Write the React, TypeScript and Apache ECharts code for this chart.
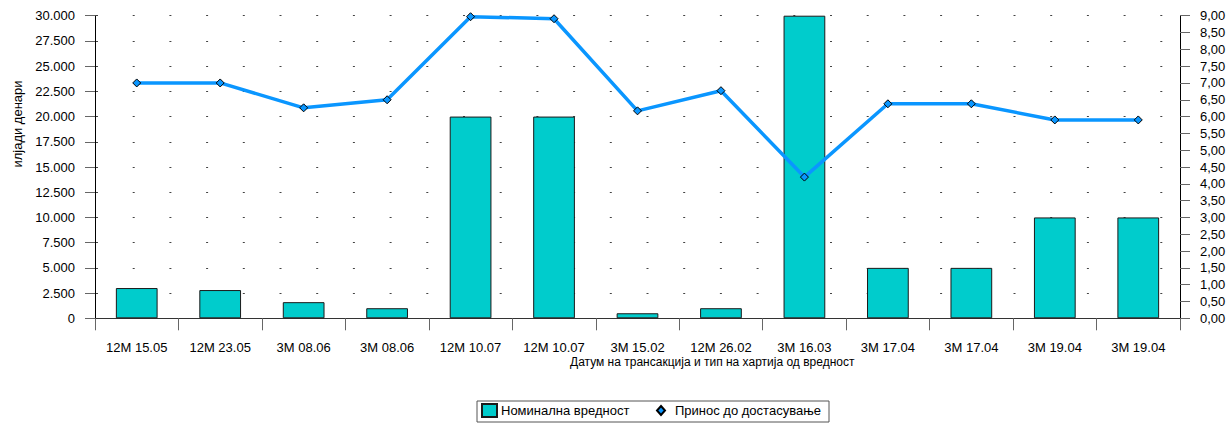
import React, { useEffect, useRef } from "react";
import * as echarts from "echarts";

const categories = [
  "12M 15.05", "12M 23.05", "3M 08.06", "3M 08.06", "12M 10.07", "12M 10.07",
  "3M 15.02", "12M 26.02", "3M 16.03", "3M 17.04", "3M 17.04", "3M 19.04", "3M 19.04",
];
const nominal = [3000, 2800, 1600, 1000, 20000, 20000, 500, 1000, 30000, 5000, 5000, 10000, 10000];
const yieldVals = [7.0, 7.0, 6.26, 6.5, 8.97, 8.91, 6.17, 6.77, 4.2, 6.38, 6.38, 5.9, 5.9];
const barName = "Номинална вредност";
const lineName = "Принос до достасување";
const yName = "илјади денари";
const xName = "Датум на трансакција и тип на хартија од вредност";

const FONT = "'Liberation Sans', Arial, sans-serif";

function fmtThousands(v: number) {
  return String(Math.round(v)).replace(/\B(?=(\d{3})+(?!\d))/g, ".");
}

export default function App() {
  const ref = useRef<HTMLDivElement>(null);
  useEffect(() => {
    if (!ref.current) return;
    const chart = echarts.init(ref.current, null, { renderer: "svg" });
    chart.setOption({
      animation: false,
      textStyle: { fontFamily: FONT },
      grid: { left: 95, right: 49, top: 15.7, bottom: 106.7, containLabel: false },
      legend: [
        {
          data: [{ name: barName, icon: "rect" }],
          left: 481,
          top: 403,
          itemWidth: 15,
          itemHeight: 13,
          itemGap: 0,
          padding: 0,
          textStyle: { fontSize: 13, color: "#000", fontFamily: FONT, padding: [0, 0, 0, -1] },
        },
        {
          data: [{ name: lineName, icon: "diamond" }],
          left: 656,
          top: 404,
          itemWidth: 8,
          itemHeight: 9,
          padding: 0,
          textStyle: { fontSize: 13, color: "#000", fontFamily: FONT, padding: [0, 0, 0, 5] },
        },
      ],
      graphic: [
        {
          type: "rect",
          shape: { x: 477, y: 401, width: 352, height: 21 },
          style: { fill: "none", stroke: "#555", lineWidth: 1 },
          silent: true,
          z: -1,
        },
        {
          type: "text",
          x: 17,
          y: 124,
          rotation: Math.PI / 2,
          style: {
            text: yName,
            font: `13px ${FONT}`,
            fill: "#000",
            align: "center",
            verticalAlign: "middle",
          },
        },
        {
          type: "text",
          x: 570,
          y: 362,
          style: {
            text: xName,
            font: `12px ${FONT}`,
            fill: "#000",
            align: "left",
            verticalAlign: "middle",
          },
        },
      ],
      xAxis: {
        type: "category",
        data: categories,
        boundaryGap: true,
        axisLine: { lineStyle: { color: "#333", width: 1 } },
        axisTick: { show: true, length: 12, alignWithLabel: false, lineStyle: { color: "#666" } },
        axisLabel: { fontSize: 13, color: "#000", margin: 23, interval: 0, fontFamily: FONT },
        splitLine: { show: false },
      },
      yAxis: [
        {
          type: "value",
          min: 0,
          max: 30000,
          interval: 2500,
          axisLine: { show: true, lineStyle: { color: "#000" } },
          axisTick: { show: true, length: 10, lineStyle: { color: "#666" } },
          axisLabel: {
            fontSize: 13,
            color: "#000",
            margin: 20,
            fontFamily: FONT,
            formatter: (v: number) => fmtThousands(v),
          },
          splitLine: {
            show: true,
            lineStyle: { color: "#444", width: 1, type: [2, 34.7], dashOffset: -1 },
          },
        },
        {
          type: "value",
          min: 0,
          max: 9,
          interval: 0.5,
          position: "right",
          axisLine: { show: true, lineStyle: { color: "#000" } },
          axisTick: { show: true, length: 10, lineStyle: { color: "#666" } },
          axisLabel: {
            fontSize: 13,
            color: "#000",
            margin: 20,
            fontFamily: FONT,
            formatter: (v: number) => v.toFixed(2).replace(".", ","),
          },
          splitLine: { show: false },
        },
      ],
      series: [
        {
          name: barName,
          type: "bar",
          data: nominal,
          yAxisIndex: 0,
          barWidth: "50%",
          itemStyle: { color: "#00CCCC", borderColor: "#1a1a1a", borderWidth: 1 },
          z: 2,
        },
        {
          name: lineName,
          type: "line",
          data: yieldVals,
          yAxisIndex: 1,
          symbol: "diamond",
          symbolSize: 8,
          showAllSymbol: true,
          lineStyle: { color: "#0A96FF", width: 3.5 },
          itemStyle: { color: "#0A96FF", borderColor: "#000", borderWidth: 1 },
          z: 3,
        },
      ],
    });
    return () => chart.dispose();
  }, []);
  return (
    <div
      ref={ref}
      style={{ position: "fixed", left: 0, top: 0, width: 1229, height: 425, background: "#fff" }}
    />
  );
}
